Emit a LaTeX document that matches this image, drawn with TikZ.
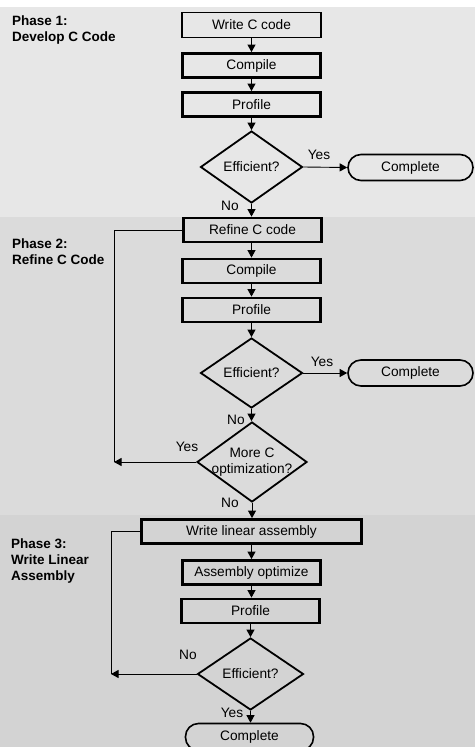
\documentclass[tikz,border=0pt]{standalone}
\usepackage{fontspec}
\setmainfont{Liberation Sans}
\usetikzlibrary{shapes.geometric,arrows.meta}
\definecolor{bandA}{HTML}{E7E7E7}
\definecolor{bandB}{HTML}{DBDBDB}
\definecolor{bandC}{HTML}{D3D3D3}
\begin{document}
\begin{tikzpicture}[x=1pt,y=-1pt,
  font=\fontsize{13.7}{15.5}\selectfont,
  box/.style={draw, line width=2.8pt, minimum width=138pt, minimum height=24pt, inner sep=0pt},
  thinbox/.style={box, line width=1.6pt, minimum width=139.5pt, minimum height=25pt},
  dia/.style={draw, diamond, line width=1.8pt, inner sep=0pt},
  term/.style={draw, rounded corners=13pt, line width=1.6pt, minimum width=125pt, minimum height=26pt, inner sep=0pt},
  arr/.style={-{Triangle[length=7.5pt,width=8pt]}, line width=0.9pt},
  conn/.style={line width=0.9pt},
  phase/.style={font=\fontsize{13.5}{16}\selectfont\bfseries, align=left, anchor=north west, inner sep=0pt},
  lbl/.style={inner sep=0pt}]
\path[use as bounding box, clip] (0,0) rectangle (475,747);
% bands
\fill[white] (0,0) rectangle (475,7);
\fill[bandA] (0,7) rectangle (475,217);
\fill[bandB] (0,217) rectangle (475,515);
\fill[bandC] (0,515) rectangle (475,747);
% phase labels
\node[phase] (p1) at (12,16) {Phase 1:\\Develop C Code};
\node[phase] (p2) at (12,239) {Phase 2:\\Refine C Code};
\node[phase] (p3) at (11,539) {Phase 3:\\Write Linear\\Assembly};
% phase 1
\node[thinbox] (w1) at (251.5,25) {Write C code};
\node[box] (c1) at (251.5,65.5) {Compile};
\node[box] (f1) at (251.5,104.5) {Profile};
\node[dia, minimum width=102pt, minimum height=72pt] (d1) at (251.5,167) {Efficient?};
\node[term] (k1) at (410.5,167.5) {Complete};
% phase 2
\node[box] (r2) at (252.5,230) {Refine C code};
\node[box] (c2) at (251.5,271) {Compile};
\node[box] (f2) at (251.5,310) {Profile};
\node[dia, minimum width=102pt, minimum height=70pt] (d2) at (251.5,373) {Efficient?};
\node[term] (k2) at (410.5,373) {Complete};
\node[dia, minimum width=110pt, minimum height=80pt, label={[align=center, font=\fontsize{13.7}{15.5}\selectfont]center:More C\\optimization?}] (d3) at (252,462) {};
% phase 3
\node[box, minimum width=220pt] (w3) at (251.5,531.5) {Write linear assembly};
\node[box] (a3) at (251.5,572.5) {Assembly optimize};
\node[box] (f3) at (250.5,611) {Profile};
\node[dia, minimum width=106pt, minimum height=72pt] (d4) at (250.5,674) {Efficient?};
\node[term, minimum width=128pt, minimum height=27pt] (k3) at (249.5,737) {Complete};
% loop coordinates
\coordinate (l2a) at (114,230);
\coordinate (l2b) at (114,462);
\coordinate (l3a) at (111,531.5);
\coordinate (l3b) at (111,674);
% connectors
\draw[arr] (w1.south) -- (c1.north);
\draw[arr] (c1.south) -- (f1.north);
\draw[arr] (f1.south) -- (d1.north);
\draw[arr] (d1.east) -- (k1.west);
\draw[arr] (d1.south) -- (d1.south |- r2.north);
\draw[arr] (r2.south -| c2.north) -- (c2.north);
\draw[arr] (c2.south) -- (f2.north);
\draw[arr] (f2.south) -- (d2.north);
\draw[arr] (d2.east) -- (k2.west);
\draw[arr] (d2.south) -- (d2.south |- d3.north);
\draw[conn] (r2.west) -- (l2a) -- (l2b);
\draw[arr] (d3.west) -- (l2b);
\draw[arr] (d3.south) -- (d3.south |- w3.north);
\draw[arr] (w3.south) -- (w3.south |- a3.north);
\draw[arr] (a3.south) -- (a3.south |- f3.north);
\draw[arr] (f3.south) -- (d4.north);
\draw[conn] (w3.west) -- (l3a) -- (l3b);
\draw[arr] (d4.west) -- (l3b);
\draw[arr] (d4.south) -- (d4.south |- k3.north);
% labels
\node[lbl] (y1) at (319,155) {Yes};
\node[lbl] (n1) at (230,206) {No};
\node[lbl] (y2) at (322,362) {Yes};
\node[lbl] (n2) at (236,420) {No};
\node[lbl] (y3) at (187,447) {Yes};
\node[lbl] (n3) at (230,503) {No};
\node[lbl] (n4) at (188,655) {No};
\node[lbl] (y4) at (232,713) {Yes};
\end{tikzpicture}
\end{document}
